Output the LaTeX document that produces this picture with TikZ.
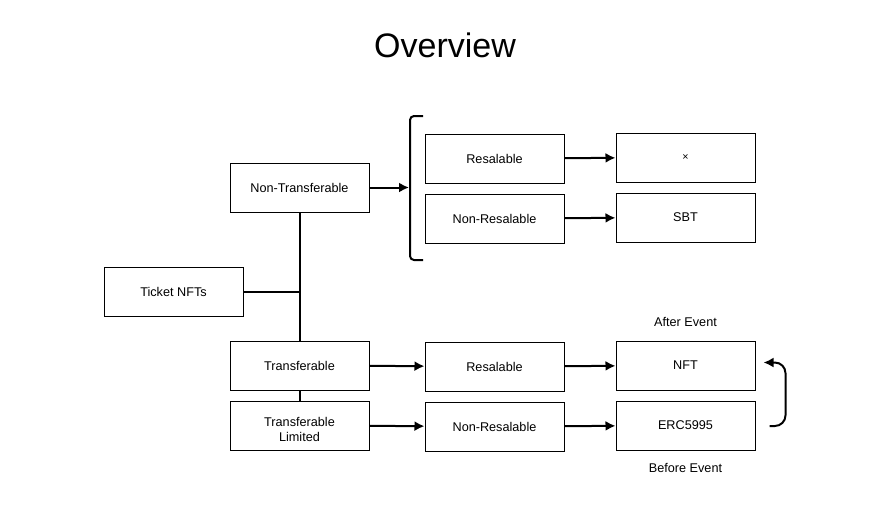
\documentclass[tikz,border=0pt]{standalone}
\usepackage{fontspec}
\setmainfont{Liberation Sans}
\usetikzlibrary{arrows, arrows.meta, positioning, calc}
\tikzstyle{box} = [rectangle, minimum width=104.25pt, minimum height=36.75pt, text centered, align=center, draw=black, line width=0.75pt, font=\fontsize{9.5}{11.5}\selectfont]
\tikzstyle{label} = [font=\fontsize{9.5}{11.5}\selectfont]
\tikzstyle{line} = [line width=1.5pt]
\tikzstyle{arrow} = [line width=1.5pt,-{Latex[length=7.5pt,width=7.5pt]}]

\begin{document}
\begin{tikzpicture}[x=0.75pt, y=-0.75pt, node distance=45pt]
\useasboundingbox (0,0) rectangle (889,515);

% Titolo
\node (title) at (445,45) {\fontsize{25.5}{30}\selectfont Overview};

% Nodi a sinistra
\node (ticket) [box] at (173.5,291.5) {Ticket NFTs};
\node (nontrans) [box] at (299.5,187.5) {Non-Transferable};
\node (trans) [box] at (299.5,365.5) {Transferable};
\node (limited) [box, below of=trans] {\raisebox{-3pt}[\height][\depth]{\parbox{90pt}{\centering Transferable\\Limited}}};

% Colonna centrale
\node (resA) [box] at (494.5,158.5) {Resalable};
\node (nonresA) [box, below of=resA] {Non-Resalable};
\node (resB) [box] at (494.5,366.5) {Resalable};
\node (nonresB) [box, below of=resB] {Non-Resalable};

% Colonna a destra
\node (cross) [box] at (685.5,157.5) {\fontsize{8}{10}\selectfont ×};
\node (sbt) [box, below of=cross] {SBT};
\node (nft) [box] at (685.5,365.5) {NFT};
\node (erc) [box, below of=nft] {ERC5995};
\node (after) [label, above of=nft, node distance=33pt] {After Event};
\node (before) [label, below of=erc, node distance=32pt] {Before Event};

% Parentesi
\draw [line, rounded corners=3pt] (423,116) -- (410,116) -- (410,260) -- (423,260);
\coordinate (brace) at (409,187.5);

% Connessione tra i nodi
\draw [line] (nontrans) -- (trans);
\draw [line] (ticket.east) -- (ticket.east -| nontrans);
\draw [line] (trans) -- (limited);
\draw [arrow] (nontrans) -- (brace);
\draw [arrow] (resA) -- (cross);
\draw [arrow] (nonresA) -- (sbt);
\draw [arrow] (trans) -- (resB);
\draw [arrow] (limited) -- (nonresB);
\draw [arrow] (resB) -- (nft);
\draw [arrow] (nonresB) -- (erc);

% Ritorno ERC5995 -> NFT
\coordinate (ercout) at ($(erc.east)+(14,0.5)$);
\coordinate (nftin) at ($(nft.east)+(8,-3)$);
\draw [arrow, rounded corners=8pt] (ercout) -- ++(16,0) |- (nftin);

\end{tikzpicture}
\end{document}
